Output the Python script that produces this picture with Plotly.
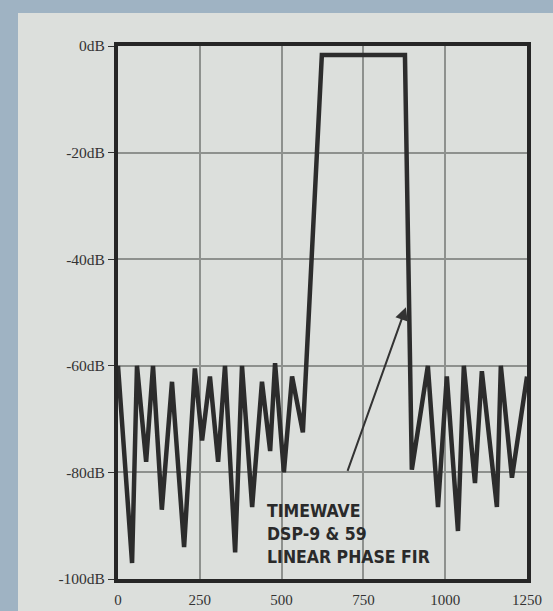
import plotly.graph_objects as go

# Frequency response of the FIR filter
freq_hz = [0, 43, 58, 86, 107, 134, 165, 202, 235, 257, 281, 306, 327, 358, 379,
           410, 440, 465, 480, 507, 532, 565, 623, 877, 898, 947, 978, 1005, 1039,
           1057, 1091, 1112, 1158, 1170, 1204, 1250]
level_db = [-60, -97, -60, -78, -60, -87, -63, -94, -60.5, -74, -62, -78, -60, -95, -60,
            -86.5, -63, -76, -59.5, -80, -62, -72.5, -1.7, -1.7, -79.5, -60, -86.5, -62, -91,
            -60, -82, -61, -86.5, -60, -81, -62]

x_ticks = [0, 250, 500, 750, 1000, 1250]
y_ticks = [0, -20, -40, -60, -80, -100]
y_tick_labels = ["0dB", "-20dB", "-40dB", "-60dB", "-80dB", "-100dB"]

label_lines = ["TIMEWAVE", "DSP-9 & 59", "LINEAR PHASE FIR"]
arrow_tail = (700, -80)
arrow_head = (880, -49)

fig = go.Figure()
fig.add_trace(go.Scatter(
    x=freq_hz, y=level_db, mode="lines",
    line=dict(color="#2c2c2c", width=4.5),
    hoverinfo="skip", showlegend=False,
))

fig.add_annotation(
    x=arrow_head[0], y=arrow_head[1], ax=arrow_tail[0], ay=arrow_tail[1],
    xref="x", yref="y", axref="x", ayref="y",
    showarrow=True, arrowhead=2, arrowsize=1.3, arrowwidth=2, arrowcolor="#333333",
    text="",
)
fig.add_annotation(
    x=448, y=-91.5, xref="x", yref="y", xanchor="left", yanchor="middle",
    text="<b>" + "<br>".join(label_lines) + "</b>", showarrow=False, align="left",
    font=dict(family="Liberation Sans Narrow, DejaVu Sans Condensed, Arial Narrow, sans-serif",
              size=17.5, color="#2a2a2a"),
)

# light page over the bluish scan border
fig.add_shape(type="rect", xref="paper", yref="paper",
              x0=-0.2445, x1=1.07, y0=-0.07, y1=1.062,
              fillcolor="#dcdfdc", line=dict(width=0), layer="below")

fig.update_layout(
    width=553, height=611,
    margin=dict(l=118, r=26, t=46, b=32),
    paper_bgcolor="#9fb3c3",
    plot_bgcolor="#dfe2df",
    showlegend=False,
)
fig.update_xaxes(
    range=[0, 1250], tickvals=x_ticks, ticktext=[str(v) for v in x_ticks],
    showgrid=True, gridcolor="#8e918e", gridwidth=1.5, automargin=False,
    showline=True, mirror=True, linewidth=4, linecolor="#262626",
    ticks="", ticklabelstandoff=4, zeroline=False,
    tickfont=dict(family="Liberation Serif, Times New Roman, serif", size=15, color="#333333"),
)
fig.update_yaxes(
    range=[-100, 0], tickvals=y_ticks, ticktext=y_tick_labels,
    showgrid=True, gridcolor="#8e918e", gridwidth=1.5, automargin=False,
    showline=True, mirror=True, linewidth=4, linecolor="#262626",
    ticks="outside", ticklen=6, tickcolor="#333333", zeroline=False,
    tickfont=dict(family="Liberation Serif, Times New Roman, serif", size=15.5, color="#333333"),
)

fig.write_html("out.html", config={"displayModeBar": False},
               post_script="document.body.style.margin='0px';document.body.style.overflow='hidden';")
